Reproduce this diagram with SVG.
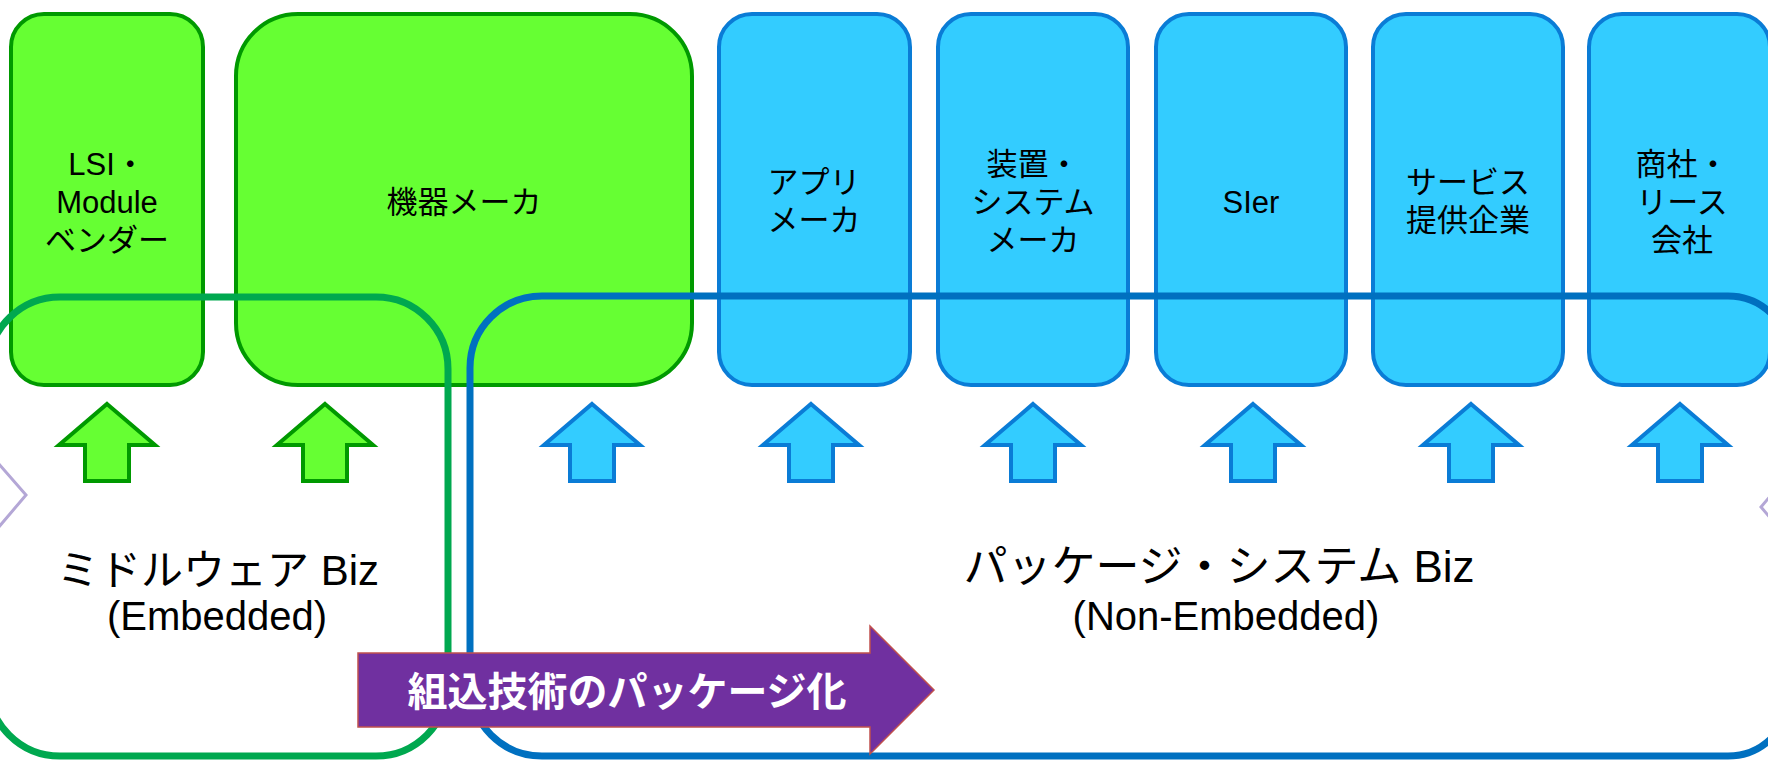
<svg xmlns="http://www.w3.org/2000/svg" width="1768" height="760" viewBox="0 0 1768 760">
<style>
.gbox{fill:#66FF33;stroke:#009900;stroke-width:4}
.bbox{fill:#33CCFF;stroke:#0A7CD6;stroke-width:4}
.lbl{font-family:"Liberation Sans","Noto Sans CJK JP",sans-serif;font-size:31px;fill:#000;text-anchor:middle}
.big{font-family:"Liberation Sans","Noto Sans CJK JP",sans-serif;fill:#000;text-anchor:middle}
.garr{fill:#66FF33;stroke:#009900;stroke-width:4}
.barr{fill:#33CCFF;stroke:#0A7CD6;stroke-width:4}
.chev{fill:none;stroke:#B4A7D6;stroke-width:3}
</style>
<defs>
<path id="up" d="M0,0 L48,41 L22,41 L22,77 L-22,77 L-22,41 L-48,41 Z"/>
</defs>
<rect width="1768" height="760" fill="#FFFFFF"/>
<g id="node-lsi">
<rect class="gbox" x="11" y="14" width="192" height="371" rx="33"/>
<text class="lbl" x="107" y="175">LSI・</text>
<text class="lbl" x="107" y="213">Module</text>
<text class="lbl" x="107" y="251">ベンダー</text>
</g>
<g id="node-kiki">
<rect class="gbox" x="236" y="14" width="456" height="371" rx="62"/>
<text class="lbl" x="464" y="213">機器メーカ</text>
</g>
<g id="node-appli">
<rect class="bbox" x="719" y="14" width="191" height="371" rx="33"/>
<text class="lbl" x="814" y="193">アプリ</text>
<text class="lbl" x="814" y="231">メーカ</text>
</g>
<g id="node-souchi">
<rect class="bbox" x="938" y="14" width="190" height="371" rx="33"/>
<text class="lbl" x="1033" y="175">装置・</text>
<text class="lbl" x="1033" y="213">システム</text>
<text class="lbl" x="1033" y="251">メーカ</text>
</g>
<g id="node-sier">
<rect class="bbox" x="1156" y="14" width="190" height="371" rx="33"/>
<text class="lbl" x="1251" y="213">SIer</text>
</g>
<g id="node-service">
<rect class="bbox" x="1373" y="14" width="190" height="371" rx="33"/>
<text class="lbl" x="1468" y="193">サービス</text>
<text class="lbl" x="1468" y="231">提供企業</text>
</g>
<g id="node-shousha">
<rect class="bbox" x="1589" y="14" width="181" height="371" rx="33"/>
<text class="lbl" x="1682" y="175">商社・</text>
<text class="lbl" x="1682" y="213">リース</text>
<text class="lbl" x="1682" y="251">会社</text>
</g>
<g id="connectors">
<path d="M-12,367 A72,72 0 0 1 60,297 L376,297 A72,72 0 0 1 448,369 L448,684 A72,72 0 0 1 376,756 L60,756 A72,72 0 0 1 -12,684 Z" fill="none" stroke="#00A84F" stroke-width="7"/>
<path d="M470,368 A72,72 0 0 1 542,296 L1728,296 A62,62 0 0 1 1790,358 L1790,694 A62,62 0 0 1 1728,756 L542,756 A72,72 0 0 1 470,684 Z" fill="none" stroke="#0070C0" stroke-width="7"/>
<use href="#up" class="garr" x="107" y="404"/>
<use href="#up" class="garr" x="325" y="404"/>
<use href="#up" class="barr" x="592" y="404"/>
<use href="#up" class="barr" x="811" y="404"/>
<use href="#up" class="barr" x="1033" y="404"/>
<use href="#up" class="barr" x="1253" y="404"/>
<use href="#up" class="barr" x="1471" y="404"/>
<use href="#up" class="barr" x="1680" y="404"/>
<polyline class="chev" points="-2,463 26,495 -2,528"/>
<polyline class="chev" points="1789,474 1761,507 1789,540"/>
</g>
<g id="node-middleware">
<text class="big" x="218" y="585" font-size="42">ミドルウェア Biz</text>
<text class="big" x="217" y="630" font-size="40">(Embedded)</text>
</g>
<g id="node-package">
<text class="big" x="1219" y="582" font-size="44">パッケージ・システム Biz</text>
<text class="big" x="1226" y="630" font-size="40">(Non-Embedded)</text>
</g>
<g id="node-packaging-arrow">
<path d="M358,653 L870,653 L870,626 L934,690 L870,754 L870,727 L358,727 Z" fill="#7030A0" stroke="#C0504D" stroke-width="1.5"/>
<text x="627" y="706" font-family="'Noto Sans CJK JP',sans-serif" font-size="40" font-weight="bold" fill="#FFFFFF" text-anchor="middle">組込技術のパッケージ化</text>
</g>
</svg>
